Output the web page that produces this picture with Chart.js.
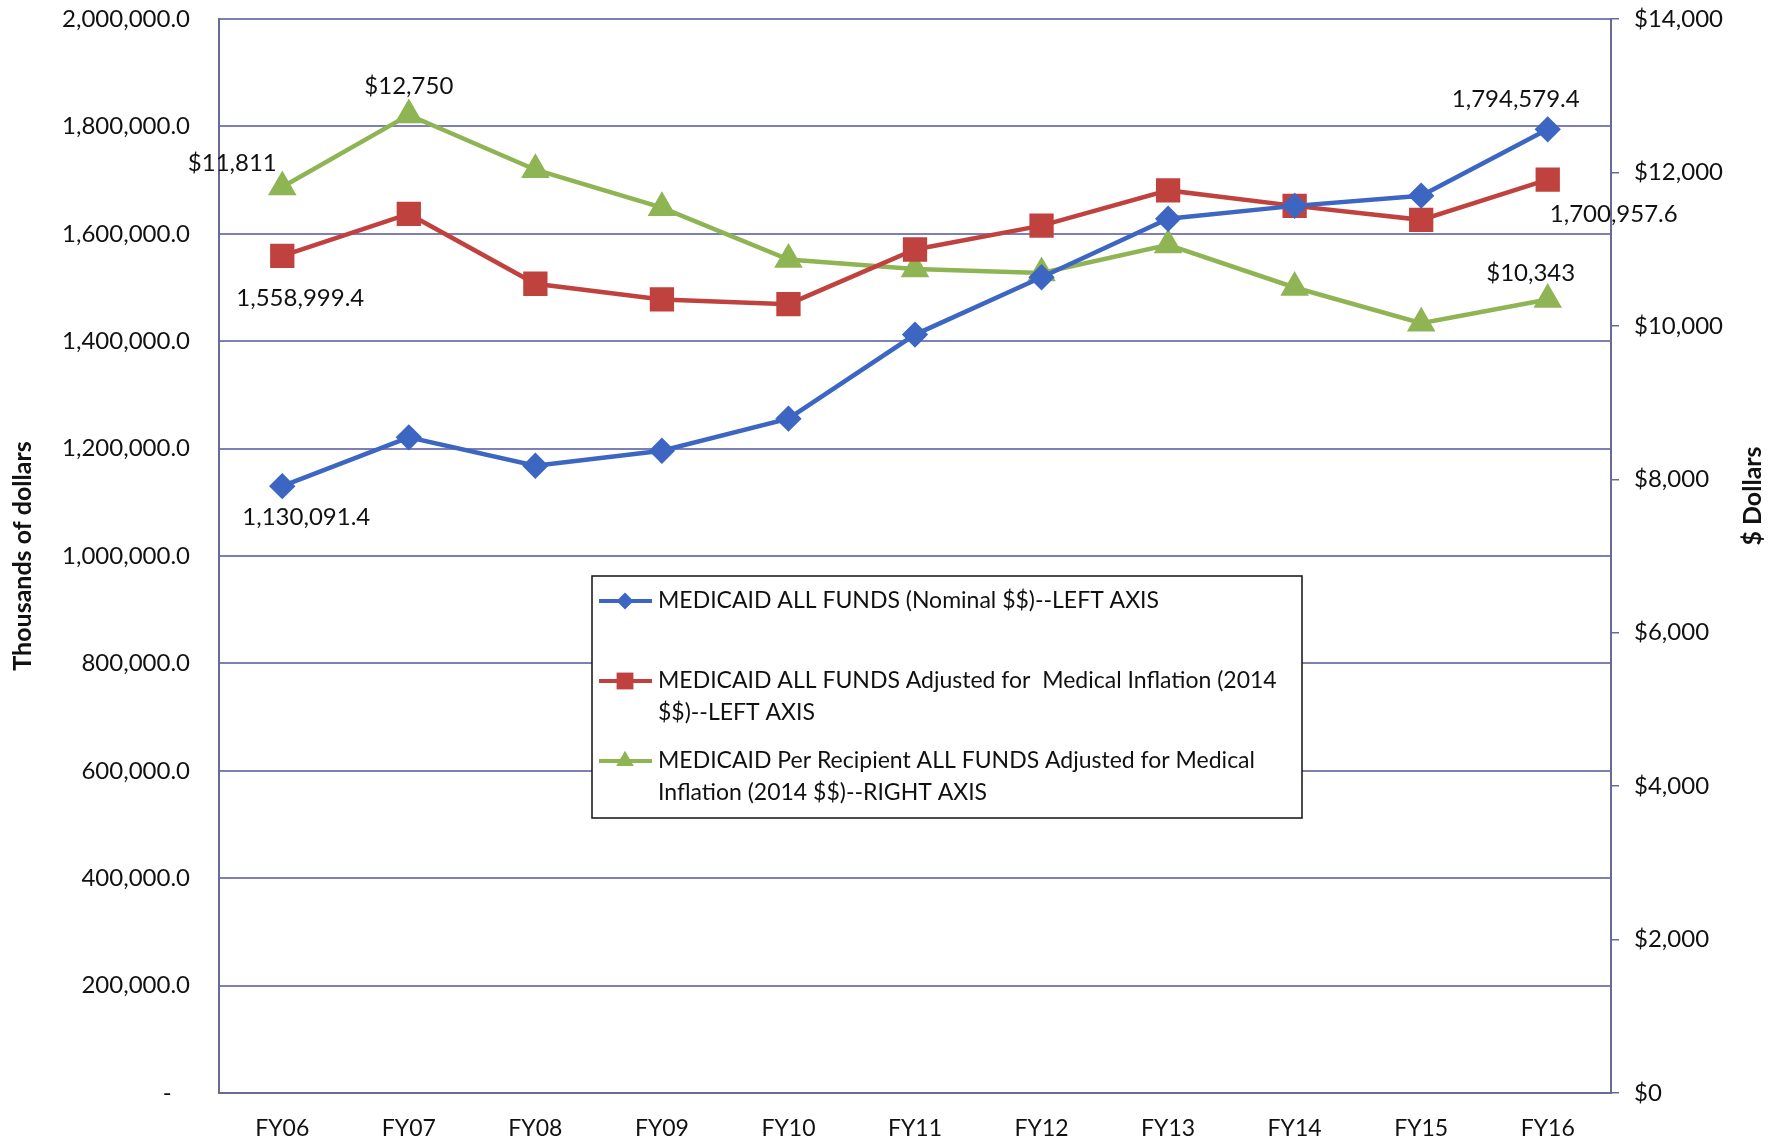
<!DOCTYPE html>
<html><head><meta charset="utf-8">
<script src="https://cdn.jsdelivr.net/npm/chart.js@4.4.1/dist/chart.umd.min.js"></script>
<style>html,body{margin:0;padding:0;background:#fff}#wrap{width:1779px;height:1144px;position:relative}</style>
</head><body><div id="wrap"><canvas id="c"></canvas></div>
<script>
// ---- data ----
const categories = ['FY06','FY07','FY08','FY09','FY10','FY11','FY12','FY13','FY14','FY15','FY16'];
const nominalFunds = [1130091.4, 1221000, 1168000, 1196000, 1255800, 1412300, 1519000, 1628000, 1652000, 1671000, 1794579.4];
const adjustedFunds = [1558999.4, 1637000, 1507000, 1477800, 1469000, 1570800, 1615200, 1680800, 1652000, 1626000, 1700957.6];
const perRecipient = [11811, 12750, 12035, 11540, 10865, 10740, 10690, 11055, 10500, 10034, 10343];
const seriesNames = [
  'MEDICAID ALL FUNDS (Nominal $$)--LEFT AXIS',
  'MEDICAID ALL FUNDS Adjusted for  Medical Inflation (2014\n$$)--LEFT AXIS',
  'MEDICAID Per Recipient ALL FUNDS Adjusted for Medical\nInflation (2014 $$)--RIGHT AXIS'
];
const leftAxisTitle = 'Thousands of dollars';
const rightAxisTitle = '$ Dollars';
const leftTickValues = [0,200000,400000,600000,800000,1000000,1200000,1400000,1600000,1800000,2000000];
const rightTickValues = [0,2000,4000,6000,8000,10000,12000,14000];
const labelledPoints = [[0,10],[0,10],[0,1,10]];

// ---- styling ----
const FONT = 'Lato, "Open Sans", sans-serif';
const colors = ['#3d66c2', '#c0423f', '#8fb454'];
const gridColor = '#7f7fb8';
const axisColor = '#6a6a95';
const labelOffsets = {
  '0-0': [24, 31], '0-10': [-32, -30],
  '1-0': [18, 42], '1-10': [66, 35],
  '2-0': [-50, -24], '2-1': [0, -29], '2-10': [-17, -26]
};
const fmtLeft = v => v === 0 ? '-   ' : v.toLocaleString('en-US', {minimumFractionDigits: 1, maximumFractionDigits: 1});
const fmtRight = v => '$' + Math.round(v).toLocaleString('en-US');

const labelPlugin = {
  id: 'pointLabels',
  afterDatasetsDraw(chart) {
    const ctx = chart.ctx;
    ctx.save();
    ctx.font = '24px ' + FONT;
    ctx.fillStyle = '#111';
    ctx.textAlign = 'center';
    ctx.textBaseline = 'middle';
    labelledPoints.forEach((idxs, s) => {
      const meta = chart.getDatasetMeta(s);
      const ds = chart.data.datasets[s];
      idxs.forEach(i => {
        const el = meta.data[i];
        const off = labelOffsets[s + '-' + i] || [0, -20];
        const v = ds.data[i];
        const txt = ds.yAxisID === 'y2' ? fmtRight(v) : fmtLeft(v);
        ctx.fillText(txt, el.x + off[0], el.y + off[1]);
      });
    });
    ctx.restore();
  }
};

const legendPlugin = {
  id: 'boxLegend',
  afterDraw(chart) {
    const ctx = chart.ctx, ca = chart.chartArea;
    const bx = ca.left + 373, by = ca.top + 557, bw = 710, bh = 242;
    ctx.save();
    ctx.fillStyle = '#fff';
    ctx.fillRect(bx, by, bw, bh);
    ctx.strokeStyle = '#111';
    ctx.lineWidth = 1.5;
    ctx.strokeRect(bx, by, bw, bh);
    const rowY = [25, 105, 185];
    ctx.font = '23px ' + FONT;
    ctx.textBaseline = 'middle';
    ctx.textAlign = 'left';
    chart.data.datasets.forEach((ds, s) => {
      const y = by + rowY[s];
      ctx.strokeStyle = ds.borderColor;
      ctx.lineWidth = 4;
      ctx.beginPath(); ctx.moveTo(bx + 7, y); ctx.lineTo(bx + 60, y); ctx.stroke();
      ctx.fillStyle = ds.backgroundColor;
      Chart.helpers.drawPoint(ctx, {pointStyle: ds.pointStyle, radius: ds.pointRadius * 0.85, borderWidth: 0}, bx + 33, y);
      ctx.fillStyle = '#111';
      ds.label.split('\n').forEach((line, k) => ctx.fillText(line, bx + 66, y + k * 32));
    });
    // right axis title, reading bottom to top
    ctx.font = 'bold 25px ' + FONT;
    ctx.textAlign = 'center';
    ctx.translate(chart.width - 26, ca.top + 477);
    ctx.rotate(-Math.PI / 2);
    ctx.fillText(rightAxisTitle, 0, 0);
    ctx.restore();
  }
};

Chart.defaults.font.family = FONT;
Chart.defaults.color = '#111';

new Chart(document.getElementById('c'), {
  type: 'line',
  data: {
    labels: categories,
    datasets: [
      {label: seriesNames[0], data: nominalFunds, yAxisID: 'y', borderColor: colors[0], backgroundColor: colors[0], pointStyle: 'rectRot', pointRadius: 10, borderWidth: 4.5},
      {label: seriesNames[1], data: adjustedFunds, yAxisID: 'y', borderColor: colors[1], backgroundColor: colors[1], pointStyle: 'rect', pointRadius: 14, borderWidth: 4.5},
      {label: seriesNames[2], data: perRecipient, yAxisID: 'y2', borderColor: colors[2], backgroundColor: colors[2], pointStyle: 'triangle', pointRadius: 12, borderWidth: 4.5}
    ]
  },
  options: {
    responsive: true,
    maintainAspectRatio: false,
    animation: false,
    events: [],
    layout: {padding: {top: 19, left: 0, right: 0, bottom: 0}},
    plugins: {legend: {display: false}, tooltip: {enabled: false}},
    elements: {line: {tension: 0}, point: {borderWidth: 0}},
    scales: {
      x: {
        offset: true,
        grid: {display: false, drawTicks: false},
        border: {display: true, color: axisColor, width: 2},
        ticks: {font: {size: 23}, padding: 22, maxRotation: 0, autoSkip: false},
        afterFit(s) { s.height = 51; s.paddingLeft = 0; s.paddingRight = 0; }
      },
      y: {
        position: 'left',
        min: 0, max: 2000000,
        afterBuildTicks(s) { s.ticks = leftTickValues.map(v => ({value: v})); },
        ticks: {font: {size: 24}, padding: 29, callback: v => fmtLeft(v)},
        grid: {color: gridColor, lineWidth: 2, drawTicks: false},
        border: {display: true, color: axisColor, width: 2},
        title: {display: true, text: leftAxisTitle, font: {size: 25, weight: 'bold'}, padding: {top: 8, bottom: 0}},
        afterFit(s) { s.width = 219; s.paddingTop = 0; s.paddingBottom = 0; }
      },
      y2: {
        position: 'right',
        min: 0, max: 14000,
        afterBuildTicks(s) { s.ticks = rightTickValues.map(v => ({value: v})); },
        ticks: {font: {size: 24}, padding: 15, callback: v => fmtRight(v)},
        grid: {drawOnChartArea: false, drawTicks: true, tickLength: 8, color: axisColor, lineWidth: 1.5},
        border: {display: true, color: axisColor, width: 2},
        afterFit(s) { s.width = 168; s.paddingTop = 0; s.paddingBottom = 0; }
      }
    }
  },
  plugins: [labelPlugin, legendPlugin]
});
</script>
</body></html>
